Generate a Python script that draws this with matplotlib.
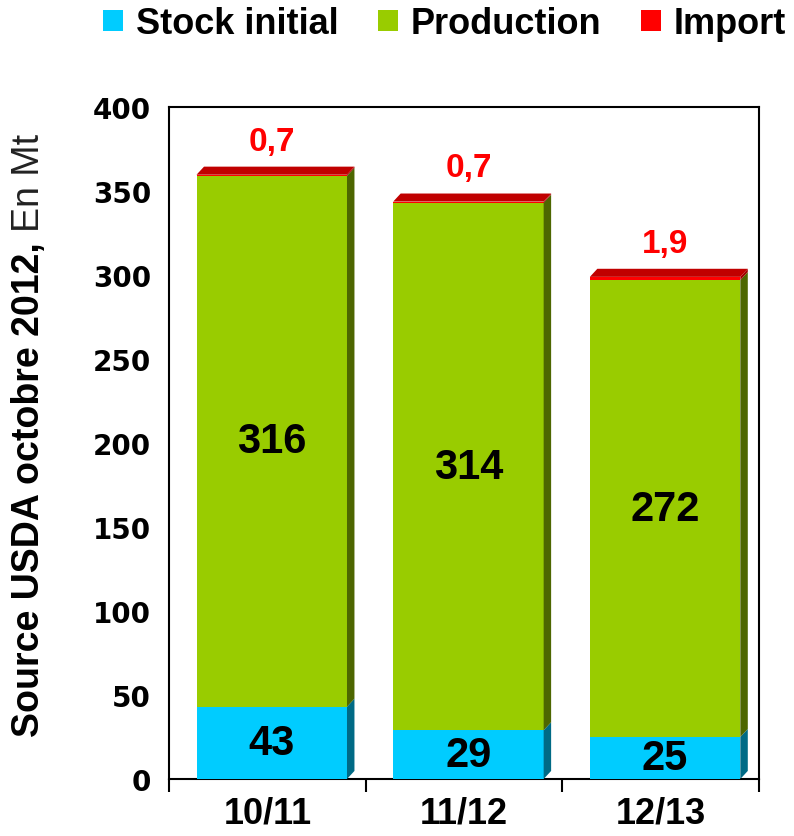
import matplotlib
matplotlib.use("Agg")
import matplotlib.pyplot as plt
from matplotlib.patches import Polygon, Patch
import numpy as np

categories = ["10/11", "11/12", "12/13"]
stock = [43, 29, 25]
production = [316, 314, 272]
imports = [0.7, 0.7, 1.9]
stock_labels = ["43", "29", "25"]
prod_labels = ["316", "314", "272"]
import_labels = ["0,7", "0,7", "1,9"]
series_names = ["Stock initial", "Production", "Import"]

front_colors = ["#00CCFF", "#99CC00", "#FF0000"]
side_colors = ["#006A85", "#4D6600", "#A00000"]
top_color = "#C00000"

FONT = "Liberation Sans"

fig = plt.figure(figsize=(7.94, 8.37), dpi=100)
ax = fig.add_axes([169/794, 1-780/837, 590/794, 672/837])

ax.set_xlim(0, 3)
ax.set_ylim(0, 400)

x0 = np.arange(len(categories)) + 0.14
width = 0.765
dx = 0.038
dy = 4.8

series = [stock, production, imports]
bottoms = np.zeros(len(categories))
for s, vals in enumerate(series):
    vals = np.array(vals, dtype=float)
    ax.bar(x0, vals, width=width, bottom=bottoms, align="edge",
           color=front_colors[s], edgecolor="none", zorder=3)
    for i in range(len(categories)):
        xr = x0[i] + width
        yb = bottoms[i]
        yt = bottoms[i] + vals[i]
        side = Polygon([(xr, yb), (xr + dx, yb + dy), (xr + dx, yt + dy), (xr, yt)],
                       closed=True, facecolor=side_colors[s], edgecolor="none", zorder=3)
        ax.add_patch(side)
    bottoms = bottoms + vals

# top faces
for i in range(len(categories)):
    xl = x0[i]
    xr = x0[i] + width
    yt = bottoms[i]
    top = Polygon([(xl, yt), (xr, yt), (xr + dx, yt + dy), (xl + dx, yt + dy)],
                  closed=True, facecolor=top_color, edgecolor="none", zorder=4)
    ax.add_patch(top)

# value labels
cx = x0 + width / 2
for i in range(len(categories)):
    ax.text(cx[i], stock[i] / 2, stock_labels[i], ha="center", va="center",
            fontsize=30, fontweight="bold", family=FONT, color="black", zorder=5)
    ax.text(cx[i], stock[i] + production[i] / 2, prod_labels[i], ha="center", va="center",
            fontsize=30, fontweight="bold", family=FONT, color="black", zorder=5)
    ax.text(cx[i], bottoms[i] + 20, import_labels[i], ha="center", va="center",
            fontsize=24, fontweight="bold", family=FONT, color="#FF0000", zorder=5)

# axes styling
for sp in ax.spines.values():
    sp.set_linewidth(1.5)
    sp.set_color("black")

ax.set_yticks(np.arange(0, 401, 50))
ax.tick_params(axis="y", length=0, pad=13)
for lab in ax.get_yticklabels():
    lab.set_fontfamily("DejaVu Sans")
    lab.set_fontweight("bold")
    lab.set_fontsize(20)

ax.set_xticks([0, 1, 2, 3])
ax.set_xticklabels([])
ax.tick_params(axis="x", which="major", length=9, width=1.5, direction="out")
ax.set_xticks(np.arange(len(categories)) + 0.5, minor=True)
ax.set_xticklabels(categories, minor=True)
ax.tick_params(axis="x", which="minor", length=0, pad=12)
for lab in ax.get_xticklabels(minor=True):
    lab.set_fontfamily(FONT)
    lab.set_fontweight("bold")
    lab.set_fontsize(26)

# legend
handles = [Patch(facecolor=c, edgecolor="none") for c in front_colors]
fig.legend(handles, series_names, loc="upper center", bbox_to_anchor=(0.56, 1.03),
           ncol=3, frameon=False, handlelength=0.55, handleheight=0.55,
           handletextpad=0.36, columnspacing=1.1,
           prop={"family": FONT, "weight": "bold", "size": 26})

# y label (mixed weight)
t1 = fig.text(0.036, 1 - 737/837, "Source USDA octobre 2012, ", rotation=90,
              ha="center", va="bottom", fontsize=27, fontweight="bold", family=FONT)
fig.canvas.draw()
r = fig.canvas.get_renderer()
bb = t1.get_window_extent(renderer=r)
ytop = bb.y1 / fig.bbox.height
fig.text(0.036, ytop, "En Mt", rotation=90, ha="center", va="bottom",
         fontsize=27, fontweight="normal", family=FONT, color="#222222")

fig.savefig("out.png", dpi=100)
